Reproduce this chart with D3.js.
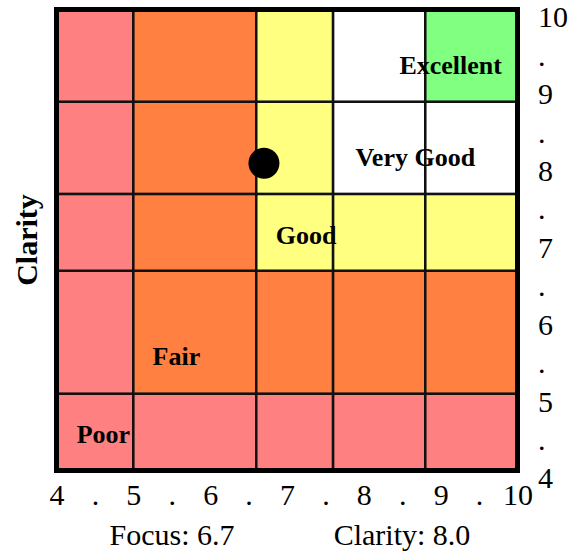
<!DOCTYPE html>
<html>
<head>
<meta charset="utf-8">
<script src="https://cdn.jsdelivr.net/npm/d3@7"></script>
<style>
  body { margin: 0; background: #fff; }
  svg { display: block; }
</style>
</head>
<body>
<svg id="chart" width="586" height="556"></svg>
<script>
// zone boundaries, same on both axes
const bounds = [4, 5, 6.6, 7.6, 8.8, 10];
const ratings = ["Poor", "Fair", "Good", "Very Good", "Excellent"];
const ratingColors = ["#ff8080", "#ff8040", "#ffff80", "#ffffff", "#80ff80"];
// label anchor points (data units)
const labelX = [4.61, 5.56, 7.25, 8.67, 9.13];
const labelY = [4.36, 5.37, 6.95, 7.96, 9.16];
// current reading
const focus = 6.7;
const clarity = 8.0;
const tickValues = [4, 4.5, 5, 5.5, 6, 6.5, 7, 7.5, 8, 8.5, 9, 9.5, 10];

const serif = '"Liberation Serif", "Times New Roman", serif';

const svg = d3.select("#chart");

const x = d3.scaleLinear().domain([4, 10]).range([56.5, 517.5]);
const y = d3.scaleLinear().domain([4, 10]).range([470.5, 9.5]);

// cells: rating = min(column, row)
const cells = [];
for (let r = 0; r < 5; r++) {
    for (let c = 0; c < 5; c++) {
        cells.push({ c, r, level: Math.min(c, r) });
    }
}

svg.selectAll(".cell")
    .data(cells)
    .enter()
    .append("rect")
    .attr("class", "cell")
    .attr("x", d => x(bounds[d.c]))
    .attr("y", d => y(bounds[d.r + 1]))
    .attr("width", d => x(bounds[d.c + 1]) - x(bounds[d.c]))
    .attr("height", d => y(bounds[d.r]) - y(bounds[d.r + 1]))
    .style("fill", d => ratingColors[d.level])
    .style("stroke", "#111")
    .style("stroke-width", 2.5);

// outer frame
svg.append("rect")
    .attr("x", x(4))
    .attr("y", y(10))
    .attr("width", x(10) - x(4))
    .attr("height", y(4) - y(10))
    .style("fill", "none")
    .style("stroke", "#000")
    .style("stroke-width", 5);

// rating labels
svg.selectAll(".rating")
    .data(ratings)
    .enter()
    .append("text")
    .attr("class", "rating")
    .attr("x", (d, i) => x(labelX[i]))
    .attr("y", (d, i) => y(labelY[i]))
    .attr("text-anchor", "middle")
    .style("font-family", serif)
    .style("font-weight", "bold")
    .style("font-size", "26px")
    .style("fill", "#000")
    .text(d => d);

// the reading
svg.append("circle")
    .attr("cx", x(focus))
    .attr("cy", y(clarity))
    .attr("r", 15.5)
    .style("fill", "#000");

const fmt = v => Number.isInteger(v) ? String(v) : ".";

const xAxis = svg.append("g")
    .attr("transform", `translate(0, ${y(4)})`)
    .call(d3.axisBottom(x).tickValues(tickValues).tickFormat(fmt).tickSize(0).tickPadding(13));

const yAxis = svg.append("g")
    .attr("transform", `translate(${x(10)}, 0)`)
    .call(d3.axisRight(y).tickValues(tickValues).tickFormat(fmt).tickSize(0).tickPadding(20.5));

[xAxis, yAxis].forEach(g => {
    g.select(".domain").remove();
    g.selectAll("text")
        .style("font-family", serif)
        .style("font-size", "30px")
        .style("fill", "#000");
});
yAxis.selectAll("text").attr("dy", "0.58em");

// axis title
svg.append("text")
    .attr("transform", "translate(37, 240) rotate(-90)")
    .attr("text-anchor", "middle")
    .style("font-family", serif)
    .style("font-weight", "bold")
    .style("font-size", "30px")
    .text("Clarity");

// readout
svg.append("text")
    .attr("x", 172)
    .attr("y", 545)
    .attr("text-anchor", "middle")
    .style("font-family", serif)
    .style("font-size", "30px")
    .text(`Focus: ${focus.toFixed(1)}`);

svg.append("text")
    .attr("x", 402)
    .attr("y", 545)
    .attr("text-anchor", "middle")
    .style("font-family", serif)
    .style("font-size", "30px")
    .text(`Clarity: ${clarity.toFixed(1)}`);
</script>
</body>
</html>
